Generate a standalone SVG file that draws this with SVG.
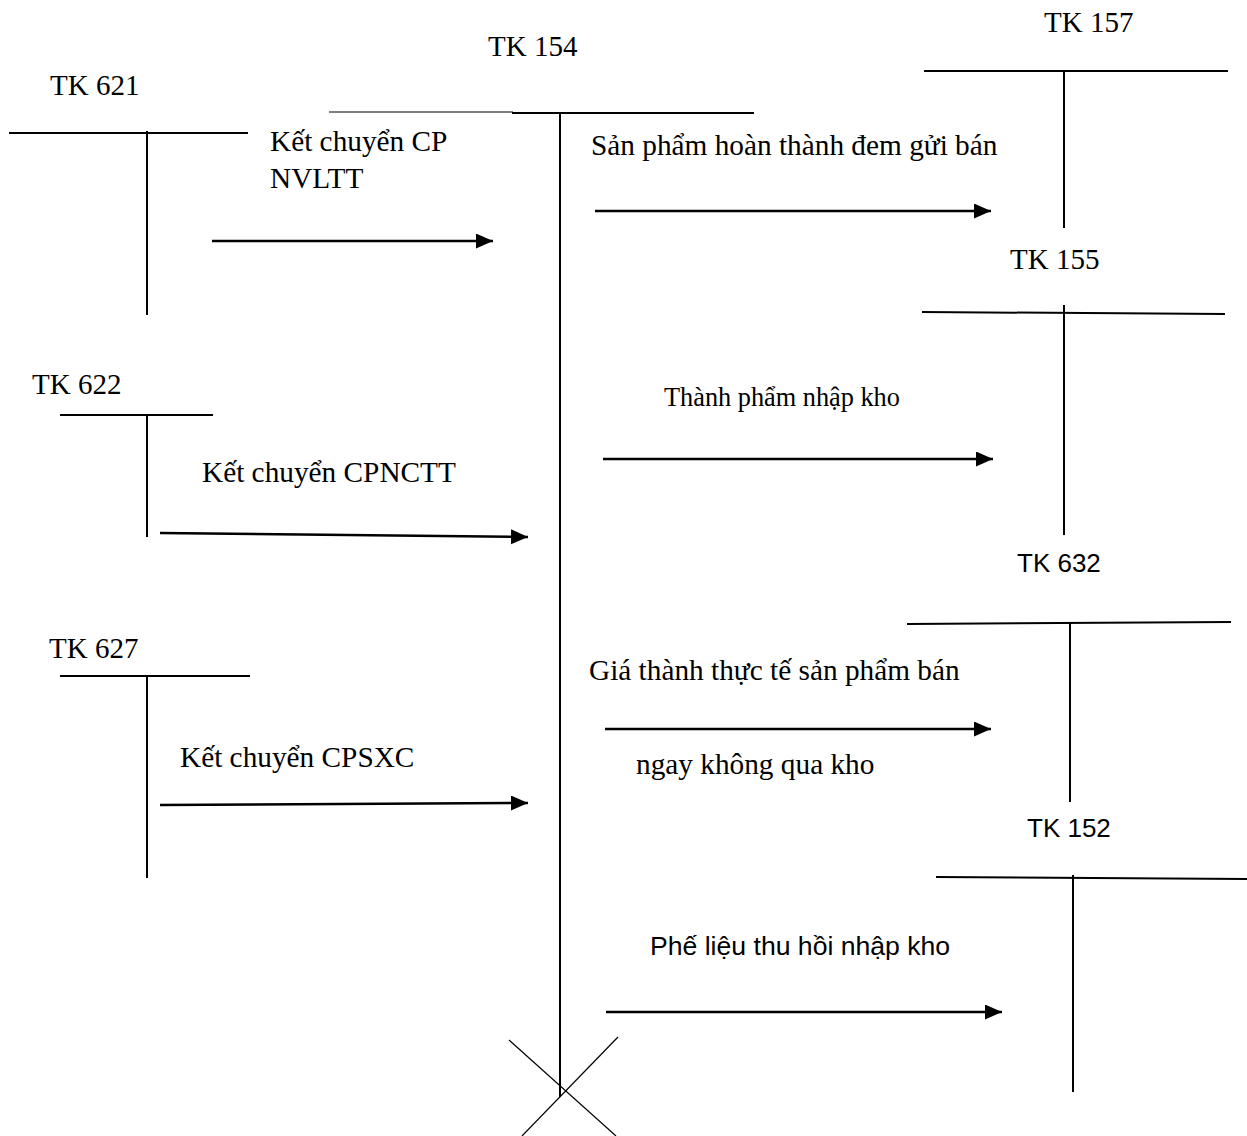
<svg xmlns="http://www.w3.org/2000/svg" width="1247" height="1136" viewBox="0 0 1247 1136">
  <style>
    .bg { fill: #ffffff; }
    .tline { stroke: #000; stroke-width: 2; fill: none; }
    .thin { stroke: #000; stroke-width: 1.2; fill: none; }
    .flow { stroke: #000; stroke-width: 2.5; fill: none; marker-end: url(#head); }
    .serif { font-family: "Liberation Serif", "Times New Roman", serif; fill: #000; }
    .sans { font-family: "Liberation Sans", Arial, sans-serif; fill: #000; }
    .acct { font-size: 29px; }
    .lbl { font-size: 29.3px; }
    .lbl-sm { font-size: 26.3px; }
    .acct-sans { font-size: 26px; }
    .lbl-sans { font-size: 26.6px; }
  </style>
  <defs>
    <marker id="head" markerUnits="userSpaceOnUse" markerWidth="18" markerHeight="16" refX="17" refY="7.5" orient="auto">
      <path d="M0,0 L17,7.5 L0,15 Z" fill="#000"/>
    </marker>
  </defs>

  <rect class="bg" x="0" y="0" width="1247" height="1136"/>

  <!-- Cost accounts on the left -->
  <g id="tk621">
    <text class="serif acct" x="50" y="95">TK 621</text>
    <line class="tline" x1="9" y1="133" x2="248" y2="133"/>
    <line class="tline" x1="147" y1="131" x2="147" y2="315"/>
  </g>

  <g id="tk622">
    <text class="serif acct" x="32" y="394">TK 622</text>
    <line class="tline" x1="60" y1="415" x2="213" y2="415"/>
    <line class="tline" x1="147" y1="415" x2="147" y2="537"/>
  </g>

  <g id="tk627">
    <text class="serif acct" x="49" y="658">TK 627</text>
    <line class="tline" x1="60" y1="676" x2="250" y2="676"/>
    <line class="tline" x1="147" y1="676" x2="147" y2="878"/>
  </g>

  <!-- Production cost account (centre) -->
  <g id="tk154">
    <text class="serif acct" x="488" y="56">TK 154</text>
    <line class="thin" x1="329" y1="112" x2="513" y2="112"/>
    <line class="tline" x1="512" y1="113" x2="754" y2="113"/>
    <line class="tline" x1="560" y1="113" x2="560" y2="1097"/>
    <!-- closing cross -->
    <line class="thin" x1="509" y1="1040" x2="616" y2="1136"/>
    <line class="thin" x1="618" y1="1037" x2="522" y2="1136"/>
  </g>

  <!-- Destination accounts on the right -->
  <g id="tk157">
    <text class="serif acct" x="1044" y="32">TK 157</text>
    <line class="tline" x1="924" y1="71" x2="1228" y2="71"/>
    <line class="tline" x1="1064" y1="71" x2="1064" y2="228"/>
  </g>

  <g id="tk155">
    <text class="serif acct" x="1010" y="269">TK 155</text>
    <line class="tline" x1="922" y1="312" x2="1225" y2="314"/>
    <line class="tline" x1="1064" y1="305" x2="1064" y2="535"/>
  </g>

  <g id="tk632">
    <text class="sans acct-sans" x="1017" y="572">TK 632</text>
    <line class="tline" x1="907" y1="624" x2="1231" y2="622"/>
    <line class="tline" x1="1070" y1="623" x2="1070" y2="802"/>
  </g>

  <g id="tk152">
    <text class="sans acct-sans" x="1027" y="837">TK 152</text>
    <line class="tline" x1="936" y1="877" x2="1247" y2="879"/>
    <line class="tline" x1="1073" y1="875" x2="1073" y2="1092"/>
  </g>

  <!-- Transfer entries -->
  <g id="connectors">
    <line class="flow" x1="212" y1="241" x2="493" y2="241"/>
    <line class="flow" x1="160" y1="533" x2="528" y2="537"/>
    <line class="flow" x1="160" y1="805" x2="528" y2="803"/>
    <line class="flow" x1="595" y1="211" x2="991" y2="211"/>
    <line class="flow" x1="603" y1="459" x2="993" y2="459"/>
    <line class="flow" x1="605" y1="729" x2="991" y2="729"/>
    <line class="flow" x1="606" y1="1012" x2="1002" y2="1012"/>

    <text class="serif lbl" x="270" y="151">Kết chuyển CP</text>
    <text class="serif lbl" x="270" y="188">NVLTT</text>
    <text class="serif lbl" x="202" y="482">Kết chuyển CPNCTT</text>
    <text class="serif lbl" x="180" y="767">Kết chuyển CPSXC</text>
    <text class="serif lbl" x="591" y="155">Sản phẩm hoàn thành đem gửi bán</text>
    <text class="serif lbl-sm" x="664" y="406">Thành phẩm nhập kho</text>
    <text class="serif lbl" x="589" y="680">Giá thành thực tế sản phẩm bán</text>
    <text class="serif lbl" x="636" y="774">ngay không qua kho</text>
    <text class="sans lbl-sans" x="650" y="955">Phế liệu thu hồi nhập kho</text>
  </g>
</svg>
